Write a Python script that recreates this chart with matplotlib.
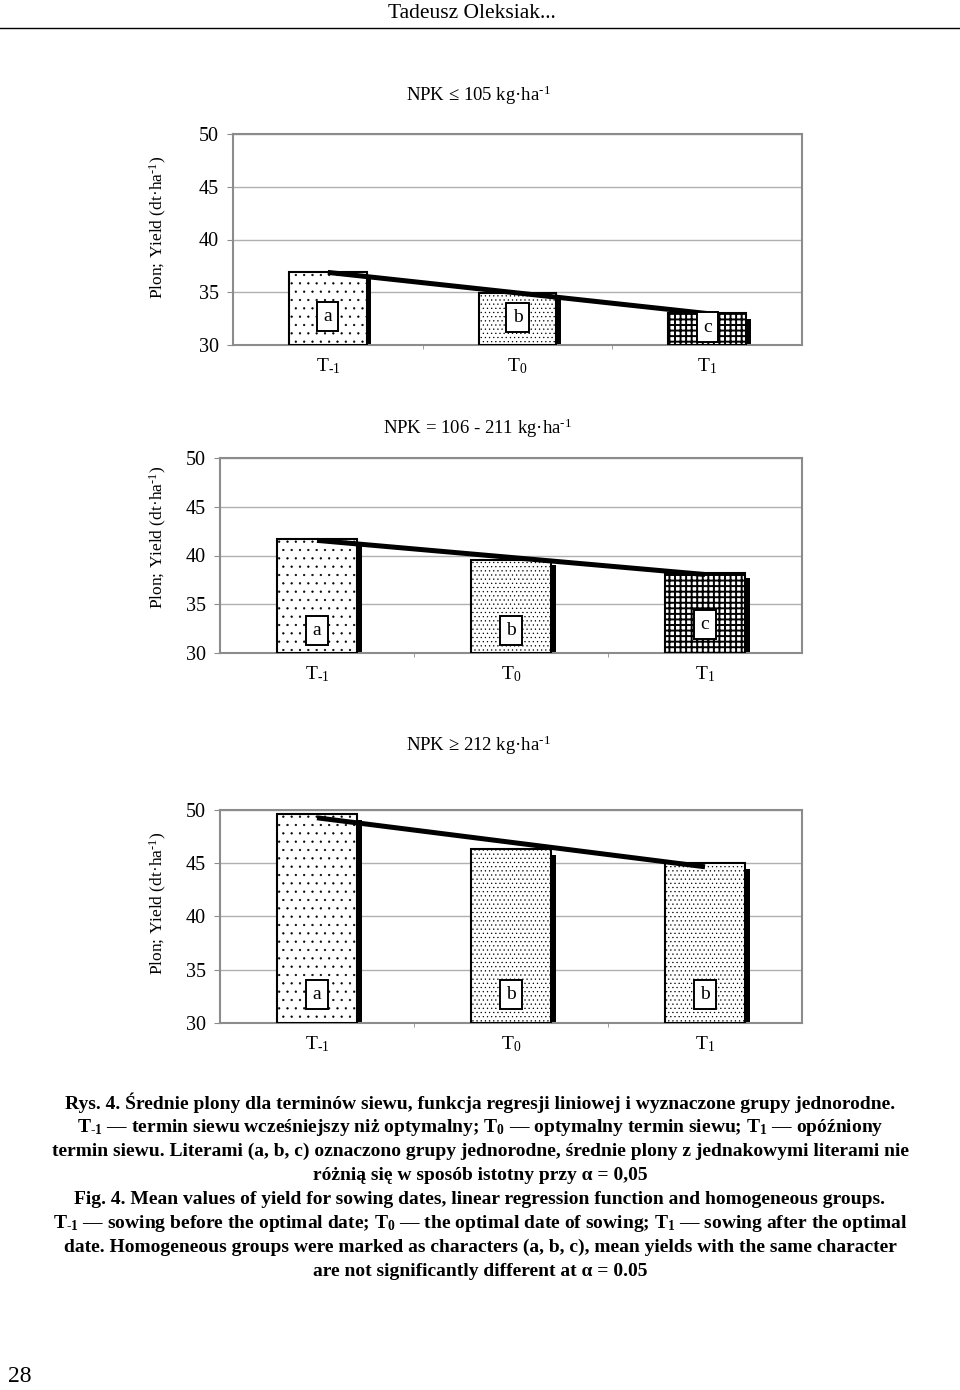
import numpy as np
import matplotlib
matplotlib.use('Agg')
import matplotlib.pyplot as plt
from matplotlib.lines import Line2D

plt.rcParams['font.family'] = ['Liberation Serif', 'DejaVu Serif']
plt.rcParams['mathtext.fontset'] = 'custom'
plt.rcParams['mathtext.rm'] = 'Liberation Serif'
plt.rcParams['mathtext.it'] = 'Liberation Serif:italic'
plt.rcParams['mathtext.bf'] = 'Liberation Serif:bold'
plt.rcParams['mathtext.default'] = 'regular'

# data ("\u2010" = short hyphen, so mathtext keeps it short)
dates = ['T$_{\u20101}$', 'T$_{0}$', 'T$_{1}$']
titles = ['NPK ≤ 105 kg·ha$^{\u20101}$', 'NPK = 106 - 211 kg·ha$^{\u20101}$', 'NPK ≥ 212 kg·ha$^{\u20101}$']
yield_low = [36.9, 34.9, 33.0]
yield_mid = [41.7, 39.5, 38.2]
yield_high = [49.6, 46.3, 45.0]
groups_low = ['a', 'b', 'c']
groups_mid = ['a', 'b', 'c']
groups_high = ['a', 'b', 'b']
yticks = [30, 35, 40, 45, 50]
ylabel = 'Plon; Yield (dt·ha$^{\u20101}$)'

caption = [
    'Rys. 4. Średnie plony dla terminów siewu, funkcja regresji liniowej i wyznaczone grupy jednorodne.',
    'T$_{\u20101}$ — termin siewu wcześniejszy niż optymalny; T$_{0}$ — optymalny termin siewu; T$_{1}$ — opóźniony',
    'termin siewu. Literami (a, b, c) oznaczono grupy jednorodne, średnie plony z jednakowymi literami nie',
    'różnią się w sposób istotny przy α = 0,05',
    'Fig. 4. Mean values of yield for sowing dates, linear regression function and homogeneous groups.',
    'T$_{\u20101}$ — sowing before the optimal date; T$_{0}$ — the optimal date of sowing; T$_{1}$ — sowing after the optimal',
    'date. Homogeneous groups were marked as characters (a, b, c), mean yields with the same character',
    'are not significantly different at α = 0.05',
]

# pattern per homogeneous group
hatch_for = {'a': '..', 'b': '....', 'c': '+++'}
hatch_lw = {'a': 0.4, 'b': 0.4, 'c': 1.4}

W, H = 960, 1390
fig = plt.figure(figsize=(W / 100, H / 100), dpi=100)

# (values, groups, letter y, axes box in px l,t,r,b, title y, ylabel y, title)
panels = [
    (yield_low, groups_low, [32.7, 32.6, 31.7], (233, 134, 802, 345), 95, 227, titles[0]),
    (yield_mid, groups_mid, [32.3, 32.3, 32.9], (220, 458, 802, 653), 428, 537, titles[1]),
    (yield_high, groups_high, [32.7, 32.7, 32.7], (220, 810, 802, 1023), 745, 903, titles[2]),
]

grey = '#8c8c8c'
bw = 0.41

for vals, groups, lab_y, (l, t, r, b), ty, ly, title in panels:
    ax = fig.add_axes([l / W, 1 - b / H, (r - l) / W, (b - t) / H])
    x = np.arange(len(vals))
    v = np.array(vals)

    # shadow behind the bars
    ax.bar(x + 0.025, v - 30 - 0.5, bottom=30, width=bw, color='black', lw=0, zorder=2)
    for xi, vi, g in zip(x, v, groups):
        with plt.rc_context({'hatch.linewidth': hatch_lw[g]}):
            bars = ax.bar(xi, vi - 30, bottom=30, width=bw, facecolor='white',
                          edgecolor='black', hatch=hatch_for[g], lw=1.5, zorder=3)
        for p in bars:
            if hasattr(p, 'set_hatch_linewidth'):
                p.set_hatch_linewidth(hatch_lw[g])

    # linear regression
    k, c0 = np.polyfit(x, v, 1)
    xe = x[[0, -1]]
    ax.plot(xe, c0 + k * xe, color='black', lw=3.6, solid_capstyle='butt', zorder=5)

    for xi, yl, g in zip(x, lab_y, groups):
        ax.text(xi, yl, g, ha='center', va='center', fontsize=14, zorder=6,
                bbox=dict(boxstyle='square,pad=0.32', fc='white', ec='black', lw=1.4))

    ax.set_xlim(-0.5, 2.5)
    ax.set_ylim(30, 50)
    ax.set_yticks(yticks)
    ax.set_xticks(x, dates)
    ax.set_xticks([0.5, 1.5], minor=True)
    ax.yaxis.grid(True, color='#b0b0b0', lw=1)
    ax.set_axisbelow(True)
    for s in ax.spines.values():
        s.set_color(grey)
        s.set_linewidth(1.5)
    ax.tick_params(axis='y', direction='out', length=4, color=grey, labelsize=14.5, pad=6)
    ax.tick_params(axis='x', which='major', length=0, labelsize=14, pad=8)
    ax.tick_params(axis='x', which='minor', length=3, color=grey)

    fig.text(478 / W, 1 - ty / H, title, ha='center', va='center', fontsize=13.5)
    fig.text(158 / W, 1 - ly / H, ylabel, ha='center', va='center', rotation=90, fontsize=12.5)

# page header and number
fig.text(472 / W, 1 - 13 / H, 'Tadeusz Oleksiak...', ha='center', va='center', fontsize=15.5)
fig.add_artist(Line2D([0, 1], [1 - 28 / H, 1 - 28 / H], color='black', lw=1))
fig.text(20 / W, 1 - 1377 / H, '28', ha='center', va='center', fontsize=17)

# caption
cap_y = [1103, 1127, 1151, 1175, 1199, 1223, 1247, 1272]
for line, cy in zip(caption, cap_y):
    fig.text(0.5, 1 - cy / H, line, ha='center', va='center', fontsize=14, fontweight='bold')

fig.savefig('out.png', dpi=100)
